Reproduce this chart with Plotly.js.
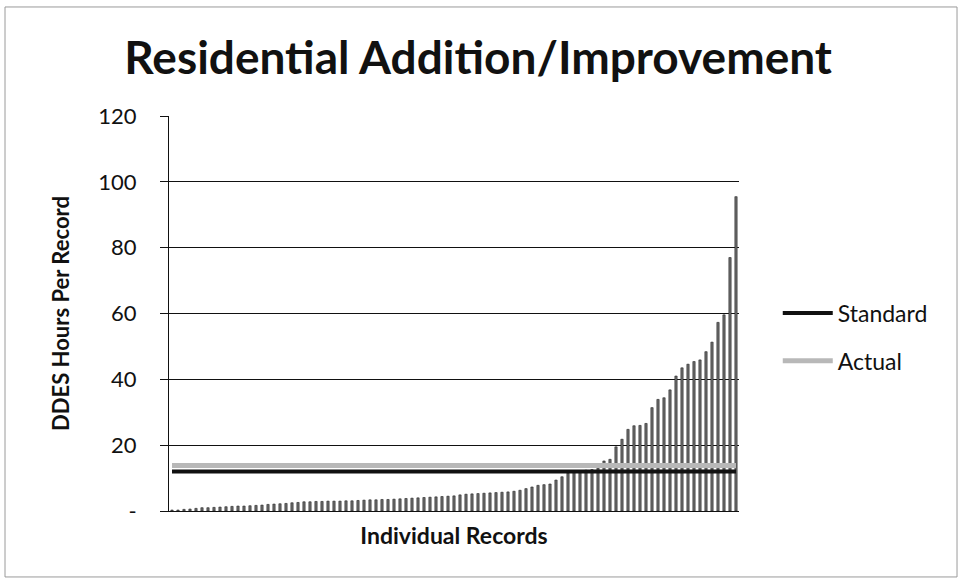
<!DOCTYPE html>
<html><head><meta charset="utf-8">
<script src="https://cdn.plot.ly/plotly-3.0.1.min.js"></script>
<style>html,body{margin:0;padding:0;background:#fff;}#chart{width:964px;height:583px;}</style>
</head><body><div id="chart"></div>
<script>
// Individual record hours, sorted ascending
const recordHours = [
  0.3,0.3,0.5,0.6,0.8,1.0,1.0,1.1,1.2,1.3,1.4,1.5,1.5,1.6,1.7,1.8,2.0,2.1,2.2,2.3,
  2.5,2.6,2.8,2.8,2.9,2.9,3.0,3.0,3.0,3.1,3.1,3.2,3.3,3.4,3.4,3.5,3.5,3.6,3.7,3.8,
  3.9,4.0,4.1,4.2,4.3,4.4,4.5,4.6,4.9,5.1,5.2,5.3,5.4,5.5,5.6,5.7,5.8,6.0,6.3,6.8,
  7.3,7.8,8.0,8.2,9.4,10.4,11.5,12.0,12.2,12.4,12.6,13.0,15.2,15.7,19.5,21.8,24.8,25.9,26.0,26.6,
  31.4,33.9,34.4,36.8,41.0,43.5,44.6,45.4,45.9,48.4,51.3,57.3,59.6,77.0,95.5
];
const records = recordHours.map((v, i) => i + 1);
const standardHours = 12;
const actualHours = 13.8;
const yTickVals = [0, 20, 40, 60, 80, 100, 120];
const yTickText = ['-', '20', '40', '60', '80', '100', '120'];

const FONT = 'Lato, "Open Sans", sans-serif';

const traces = [
  {
    type: 'bar', x: records, y: recordHours, showlegend: false,
    marker: {color: '#6e6e6e', line: {color: '#222', width: 0.6}},
    hoverinfo: 'skip'
  },
  {
    type: 'scatter', mode: 'lines', name: 'Standard', legend: 'legend',
    x: records, y: records.map(() => standardHours),
    line: {color: '#111', width: 4}
  },
  {
    type: 'scatter', mode: 'lines', name: 'Actual', legend: 'legend2',
    x: records, y: records.map(() => actualHours),
    line: {color: '#b8b8b8', width: 5}
  }
];

const layout = {
  width: 964, height: 583,
  margin: {l: 169, r: 225, t: 116, b: 72},
  paper_bgcolor: '#fff', plot_bgcolor: '#fff',
  font: {family: FONT, color: '#111'},
  title: {
    text: '<b>Residential Addition/Improvement</b>',
    font: {family: FONT, size: 46, color: '#111'},
    x: 0.496, xanchor: 'center', xref: 'container', y: 0.9, yref: 'container', yanchor: 'middle'
  },
  bargap: 0.62,
  xaxis: {
    range: [0.5, records.length + 0.5],
    showticklabels: false, ticks: '', showgrid: false, zeroline: false,
    showline: true, linecolor: '#111', linewidth: 1,
    title: {text: '<b>Individual Records</b>', font: {family: FONT, size: 23, color: '#111'}, standoff: 16}
  },
  yaxis: {
    range: [0, 120], tickvals: yTickVals, ticktext: yTickText,
    ticks: 'outside', ticklen: 8, tickcolor: '#111', tickwidth: 1,
    ticklabelstandoff: 19,
    tickfont: {family: FONT, size: 22, color: '#111'},
    showgrid: true, gridcolor: '#111', gridwidth: 1, zeroline: false,
    showline: true, linecolor: '#111', linewidth: 1,
    title: {text: '<b>DDES Hours Per Record</b>', font: {family: FONT, size: 22, color: '#111'}, standoff: 22}
  },
  legend: {
    x: 1.068, xanchor: 'left', y: 0.501, yanchor: 'middle',
    font: {family: FONT, size: 23, color: '#111'}, bgcolor: 'rgba(0,0,0,0)', itemwidth: 50
  },
  legend2: {
    x: 1.068, xanchor: 'left', y: 0.38, yanchor: 'middle',
    font: {family: FONT, size: 23, color: '#111'}, bgcolor: 'rgba(0,0,0,0)', itemwidth: 50
  },
  shapes: [{
    type: 'rect', xref: 'paper', yref: 'paper', layer: 'below',
    x0: -0.2877, x1: 1.3825, y0: -0.167, y1: 1.276,
    line: {color: '#9a9a9a', width: 1}, fillcolor: 'rgba(0,0,0,0)'
  }]
};

Plotly.newPlot('chart', traces, layout, {displayModeBar: false, staticPlot: true});
</script>
</body></html>
